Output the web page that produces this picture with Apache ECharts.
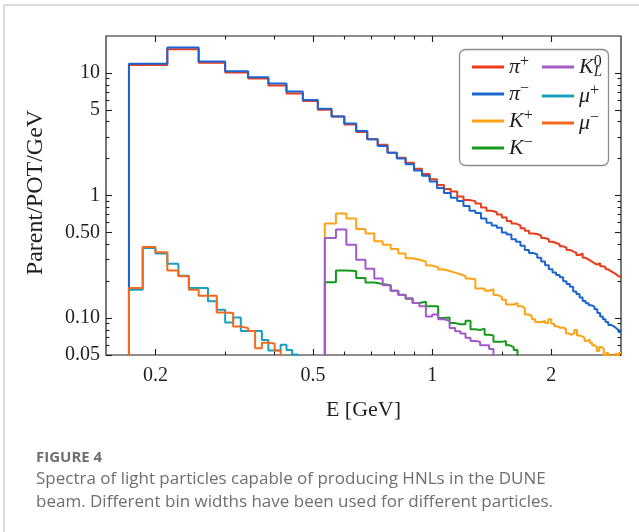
<!DOCTYPE html>
<html>
<head>
<meta charset="utf-8">
<script src="https://cdn.jsdelivr.net/npm/echarts@6/dist/echarts.min.js"></script>
<style>
  html, body { margin: 0; padding: 0; background: #ffffff; }
  #chart { width: 639px; height: 532px; }
</style>
</head>
<body>
<div id="chart"></div>
<script>
// ---- Histogram binning (GeV): bins are k * width, first drawn bin index ----
const PION_BIN_WIDTH = 3 / 70;
const PION_FIRST_BIN = 4;
const MUON_BIN_WIDTH = 1 / 70;
const MUON_FIRST_BIN = 12;
const KAON_BIN_WIDTH = 1 / 28;
const KAON_FIRST_BIN = 15;

// ---- Parent/POT/GeV per bin ----
const piPlus = [11.6, 15.6, 12.1, 10.1, 9.0, 7.9, 6.8, 5.9, 5.0, 4.4,
  3.8, 3.3, 2.87, 2.6, 2.23, 2.03, 1.85, 1.65, 1.5, 1.36,
  1.22, 1.13, 1.08, 0.98, 0.92, 0.90, 0.86, 0.80, 0.75, 0.73,
  0.70, 0.66, 0.62, 0.59, 0.57, 0.54, 0.515, 0.49, 0.485, 0.47,
  0.45, 0.44, 0.42, 0.41, 0.40, 0.385, 0.375, 0.36, 0.35, 0.34,
  0.327, 0.337, 0.31, 0.30, 0.29, 0.28, 0.273, 0.281, 0.265, 0.26,
  0.25, 0.242, 0.235, 0.228, 0.22, 0.215];
const piMinus = [11.9, 16.1, 12.4, 10.3, 9.2, 8.2, 7.05, 6.0, 5.1, 4.4,
  3.87, 3.36, 2.87, 2.53, 2.23, 2.0, 1.8, 1.6, 1.45, 1.3,
  1.15, 1.05, 0.96, 0.9, 0.82, 0.75, 0.72, 0.65, 0.6, 0.57,
  0.545, 0.5, 0.48, 0.44, 0.42, 0.39, 0.36, 0.34, 0.33, 0.31,
  0.29, 0.27, 0.25, 0.236, 0.225, 0.215, 0.2, 0.19, 0.18, 0.165,
  0.157, 0.147, 0.138, 0.132, 0.127, 0.124, 0.118, 0.11, 0.103, 0.098,
  0.093, 0.088, 0.086, 0.083, 0.080, 0.077];
const kPlus = [0.59, 0.713, 0.649, 0.534, 0.49, 0.423, 0.397, 0.366, 0.337, 0.308,
  0.299, 0.29, 0.268, 0.26, 0.249, 0.242, 0.235, 0.228, 0.22, 0.21,
  0.207, 0.174, 0.174, 0.167, 0.172, 0.154, 0.149, 0.141, 0.129, 0.129,
  0.133, 0.125, 0.121, 0.107, 0.104, 0.098, 0.093, 0.093, 0.095, 0.091,
  0.098, 0.09, 0.086, 0.083, 0.084, 0.081, 0.075, 0.073, 0.075, 0.080,
  0.072, 0.071, 0.069, 0.065, 0.067, 0.063, 0.06, 0.058, 0.054, 0.058,
  0.056, 0.048, 0.052, 0.047, 0.049, 0.045, 0.051, 0.046, 0.052];
const kMinus = [0.196, 0.245, 0.242, 0.212, 0.195, 0.19, 0.185, 0.167, 0.155, 0.144,
  0.133, 0.136, 0.125, 0.125, 0.1, 0.101, 0.091, 0.089, 0.089, 0.095,
  0.081, 0.08, 0.082, 0.073, 0.072, 0.064, 0.064, 0.065, 0.06, 0.058,
  0.055, 0.045, 0.04];
const kLong = [0.451, 0.529, 0.397, 0.299, 0.253, 0.21, 0.185, 0.167, 0.154, 0.145,
  0.133, 0.125, 0.103, 0.107, 0.098, 0.095, 0.083, 0.078, 0.075, 0.069,
  0.065, 0.064, 0.06, 0.06, 0.056, 0.045, 0.04];
const muPlus = [0.170, 0.373, 0.336, 0.278, 0.222, 0.176, 0.176, 0.137, 0.117, 0.092,
  0.101, 0.0783, 0.0783, 0.0783, 0.0664, 0.0545, 0.0545, 0.0605, 0.055, 0.0505,
  0.04, 0.035];
const muMinus = [0.176, 0.380, 0.344, 0.245, 0.219, 0.170, 0.152, 0.152, 0.111, 0.110,
  0.0854, 0.0828, 0.0783, 0.0568, 0.0628, 0.0621, 0.0545, 0.042, 0.038];

// ---- Axes ----
const X_RANGE = [0.15, 3];
const Y_RANGE = [0.05, 20];
const X_MAJOR = [0.2, 0.5, 1, 2];
const X_MAJOR_LABELS = ['0.2', '0.5', '1', '2'];
const X_MINOR = [0.3, 0.4, 0.6, 0.7, 0.8, 0.9, 1.5];
const Y_MAJOR = [0.05, 0.1, 0.5, 1, 5, 10];
const Y_MAJOR_LABELS = ['0.05', '0.10', '0.50', '1', '5', '10'];
const Y_MINOR = [0.06, 0.07, 0.08, 0.09, 0.2, 0.3, 0.4, 0.6, 0.7, 0.8, 0.9,
  2, 3, 4, 6, 7, 8, 9];

const FLOOR = 1e-3; // empty-bin level, below the visible range

const SERIES = [
  { id: 'piPlus', values: piPlus, first: PION_FIRST_BIN, width: PION_BIN_WIDTH, color: '#ec3a1c' },
  { id: 'piMinus', values: piMinus, first: PION_FIRST_BIN, width: PION_BIN_WIDTH, color: '#1b65d1' },
  { id: 'kPlus', values: kPlus, first: KAON_FIRST_BIN, width: KAON_BIN_WIDTH, color: '#ffa216' },
  { id: 'kMinus', values: kMinus, first: KAON_FIRST_BIN, width: KAON_BIN_WIDTH, color: '#14991a' },
  { id: 'kLong', values: kLong, first: KAON_FIRST_BIN, width: KAON_BIN_WIDTH, color: '#a35bc9' },
  { id: 'muPlus', values: muPlus, first: MUON_FIRST_BIN, width: MUON_BIN_WIDTH, color: '#17a1bf' },
  { id: 'muMinus', values: muMinus, first: MUON_FIRST_BIN, width: MUON_BIN_WIDTH, color: '#f36a1c' }
];

const LEGEND_TEXT = {
  piPlus: '{b|\u03c0}{sup|+}',
  piMinus: '{b|\u03c0}{sup|\u2212}',
  kPlus: '{b|K}{sup|+}',
  kMinus: '{b|K}{sup|\u2212}',
  kLong: '{b|K}{supz|0}{sub|L}',
  muPlus: '{b|\u03bc}{sup|+}',
  muMinus: '{b|\u03bc}{sup|\u2212}'
};

const CAPTION_TITLE = 'FIGURE 4';
const CAPTION_LINES = [
  'Spectra of light particles capable of producing HNLs in the DUNE',
  'beam. Different bin widths have been used for different particles.'
];

// Step outline of one histogram: rise from the empty level, flat tops, last edge
function stepPoints(s) {
  const edge = k => k * s.width;
  const pts = [[edge(s.first), FLOOR]];
  s.values.forEach((v, i) => pts.push([edge(s.first + i), v]));
  pts.push([edge(s.first + s.values.length), s.values[s.values.length - 1]]);
  return pts;
}

const SERIF = '"Liberation Serif", "DejaVu Serif", serif';
const INK = '#1f1f1f';
const CAPTION_INK = '#6f6f6f';
const lg = Math.log10;

function labelFor(ticks, labels) {
  return v => {
    const i = ticks.findIndex(t => Math.abs(lg(t) - v) < 1e-6);
    return i >= 0 ? labels[i] : '';
  };
}

// Inward tick marks (and optional labels) placed on the log10 positions
function tickAxis(kind, position, ticks, len, labels) {
  const range = kind === 'x' ? X_RANGE : Y_RANGE;
  const pos = ticks.map(lg);
  return {
    type: 'value', gridIndex: 0, position: position,
    min: lg(range[0]), max: lg(range[1]),
    axisLine: { show: false, onZero: false }, splitLine: { show: false },
    axisTick: { show: true, inside: true, length: len, customValues: pos,
      lineStyle: { color: INK, width: 1.1 } },
    axisLabel: labels ? {
      show: true, customValues: pos, formatter: labelFor(ticks, labels),
      fontFamily: SERIF, fontSize: 20, color: INK,
      margin: kind === 'x' ? 11 : 6
    } : { show: false }
  };
}

const richLegend = {
  b: { fontFamily: SERIF, fontStyle: 'italic', fontSize: 22, color: INK, lineHeight: 26 },
  sup: { fontFamily: SERIF, fontSize: 16, color: INK, verticalAlign: 'top', lineHeight: 15 },
  supz: { fontFamily: SERIF, fontSize: 16, color: INK, verticalAlign: 'top', lineHeight: 15, width: 0 },
  sub: { fontFamily: SERIF, fontStyle: 'italic', fontSize: 15, color: INK, verticalAlign: 'bottom', lineHeight: 15 }
};

function legendBlock(ids, left) {
  return {
    show: true, orient: 'vertical', left: left, top: 49, itemGap: 3,
    itemWidth: 32, itemHeight: 3, icon: 'rect', z: 8,
    selectedMode: false,
    data: ids,
    formatter: name => LEGEND_TEXT[name],
    textStyle: { rich: richLegend, padding: [0, 0, 0, 0] }
  };
}

const chart = echarts.init(document.getElementById('chart'), null, { renderer: 'canvas' });

chart.setOption({
  animation: false,
  backgroundColor: '#ffffff',
  grid: {
    left: 106, top: 36, right: 18, bottom: 177,
    show: true, borderColor: INK, borderWidth: 1.2, backgroundColor: 'transparent',
    outerBoundsMode: 'none'
  },
  xAxis: [
    {
      type: 'log', logBase: 10, min: X_RANGE[0], max: X_RANGE[1], position: 'bottom',
      axisLine: { show: false, onZero: false }, axisTick: { show: false }, axisLabel: { show: false },
      splitLine: { show: false }, minorTick: { show: false },
      name: 'E [GeV]', nameLocation: 'middle', nameGap: 44,
      nameTextStyle: { fontFamily: SERIF, fontSize: 22, color: INK }
    },
    tickAxis('x', 'bottom', X_MAJOR, 6, X_MAJOR_LABELS),
    tickAxis('x', 'bottom', X_MINOR, 3.5),
    tickAxis('x', 'top', X_MAJOR, 6),
    tickAxis('x', 'top', X_MINOR, 3.5)
  ],
  yAxis: [
    {
      type: 'log', logBase: 10, min: Y_RANGE[0], max: Y_RANGE[1], position: 'left',
      axisLine: { show: false, onZero: false }, axisTick: { show: false }, axisLabel: { show: false },
      splitLine: { show: false }, minorTick: { show: false },
      name: 'Parent/POT/GeV', nameLocation: 'middle', nameGap: 58, nameRotate: 90,
      nameTextStyle: { fontFamily: SERIF, fontSize: 24, color: INK, padding: [0, 0, 0, 6] }
    },
    tickAxis('y', 'left', Y_MAJOR, 6, Y_MAJOR_LABELS),
    tickAxis('y', 'left', Y_MINOR, 3.5),
    tickAxis('y', 'right', Y_MAJOR, 6),
    tickAxis('y', 'right', Y_MINOR, 3.5)
  ],
  legend: [
    legendBlock(['piPlus', 'piMinus', 'kPlus', 'kMinus'], 467),
    legendBlock(['kLong', 'muPlus', 'muMinus'], 537)
  ],
  series: SERIES.map(s => ({
    name: s.id, type: 'line', xAxisIndex: 0, yAxisIndex: 0,
    step: 'end', showSymbol: false, symbol: 'none', clip: true,
    color: s.color,
    lineStyle: { color: s.color, width: 2 },
    itemStyle: { color: s.color },
    data: stepPoints(s)
  })),
  graphic: [
    // page frame
    { type: 'line', shape: { x1: 4, y1: 5, x2: 639, y2: 5 }, style: { stroke: '#cfcfcf', lineWidth: 1.5 } },
    { type: 'line', shape: { x1: 4, y1: 5, x2: 4, y2: 532 }, style: { stroke: '#cfcfcf', lineWidth: 1.5 } },
    // legend frame
    { type: 'rect', z: 7, shape: { x: 459.5, y: 49.5, width: 149, height: 116, r: 6 },
      style: { fill: 'rgba(255,255,255,0.85)', stroke: '#8c8c8c', lineWidth: 1.3 } },
    // caption
    { type: 'text', x: 36, y: 458,
      style: { text: CAPTION_TITLE, font: 'bold 15px "Open Sans", Lato, sans-serif',
        fill: CAPTION_INK, verticalAlign: 'middle' } },
    { type: 'text', x: 36, y: 479,
      style: { text: CAPTION_LINES[0], font: '17px "Open Sans", Lato, sans-serif',
        fill: CAPTION_INK, verticalAlign: 'middle' } },
    { type: 'text', x: 36, y: 502,
      style: { text: CAPTION_LINES[1], font: '17px "Open Sans", Lato, sans-serif',
        fill: CAPTION_INK, verticalAlign: 'middle' } }
  ]
});
</script>
</body>
</html>
